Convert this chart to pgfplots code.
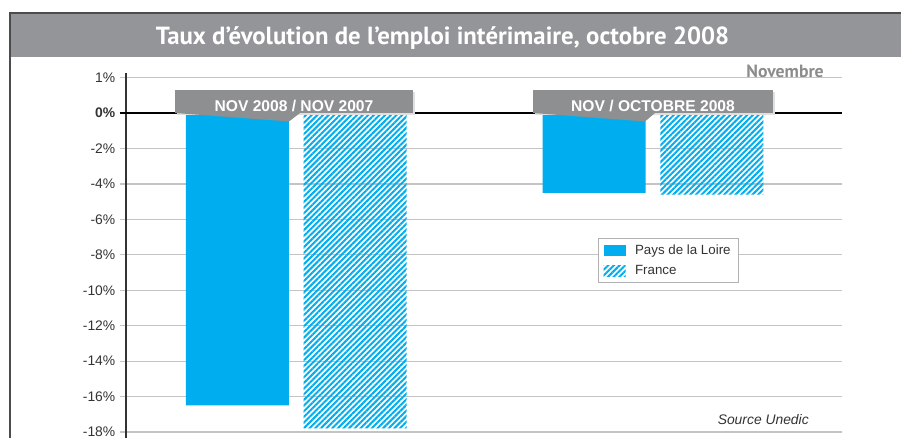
\documentclass[border=0pt]{standalone}
\usepackage{fontspec}
\setmainfont{Liberation Sans}
\newfontfamily\titlefont{PT Sans}
\usepackage{pgfplots}
\pgfplotsset{compat=1.18}
\usetikzlibrary{patterns.meta}

\definecolor{bleu}{HTML}{00AEEF}
\definecolor{bandeau}{HTML}{939598}
\definecolor{etiquette}{HTML}{8E8F91}
\definecolor{texte}{HTML}{333333}
\definecolor{grille}{HTML}{C4C4C4}

\begin{document}
\begin{tikzpicture}
\useasboundingbox (0,0) rectangle (675.75pt,328.5pt);

% cadre et bandeau de titre (1 unite = 1 px)
\begin{scope}[x=0.75pt,y=0.75pt]
  \fill[bandeau] (10,381) rectangle (901,425);
  \draw[line width=1.1pt, color=black!70] (10,0) -- (10,425) -- (901,425);
  \node[anchor=base, text=white, inner sep=0pt,
        font=\titlefont\bfseries\fontsize{18.6pt}{21pt}\selectfont]
    at (442.5,393.7) {Taux d’évolution de l’emploi intérimaire, octobre 2008};
  \node[anchor=base east, text=black!45, inner sep=0pt,
        font=\titlefont\bfseries\fontsize{13.3pt}{15pt}\selectfont]
    at (824,360.7) {Novembre};
  \node[anchor=base east, text=texte, inner sep=0pt,
        font=\itshape\fontsize{10.4pt}{12pt}\selectfont]
    at (809,13.5) {Source Unedic};
\end{scope}

\begin{axis}[
  at={(94.5pt,0pt)}, anchor=south west,
  scale only axis,
  width=537pt, height=273.75pt,
  ybar,
  bar width=0.2888,
  xmin=-0.4774, xmax=1.5298,
  ymin=-18.34, ymax=2.27,
  enlargelimits=false,
  axis x line=none,
  axis y line=left,
  y axis line style={-, line width=1.1pt, color=texte},
  xtick=\empty,
  ytick={2,-2,-4,-6,-8,-10,-12,-14,-16,-18},
  yticklabels={1\%,-2\%,-4\%,-6\%,-8\%,-10\%,-12\%,-14\%,-16\%,-18\%},
  extra y ticks={0},
  extra y tick labels={\textbf{0\%}},
  extra y tick style={grid style={black, line width=1.1pt}, tick style={black, line width=1.1pt}},
  ymajorgrids,
  grid style={grille, line width=0.8pt},
  tick align=outside,
  major tick length=4.5pt,
  tick style={grille, line width=0.8pt},
  yticklabel style={font=\fontsize{10.4pt}{12pt}\selectfont, text=texte},
  legend style={at={(0.6592,0.5479)}, anchor=north west, draw=black!30,
    line width=0.6pt, font=\fontsize{10pt}{12pt}\selectfont, text=texte,
    inner xsep=4pt, inner ysep=2.5pt, row sep=3pt, column sep=5pt},
  legend cell align=left,
  legend image code/.code={\fill[#1] (0pt,-4.1pt) rectangle (16.5pt,4.1pt);},
]
\addplot[fill=bleu, draw=none, bar shift=-0.1651]
  coordinates {(0,-16.5) (1,-4.5)};
\addlegendentry{Pays de la Loire}
\addplot[draw=none, pattern={Lines[angle=45, distance=3pt, line width=1.5pt]},
  pattern color=bleu, bar shift=0.1651]
  coordinates {(0,-17.8) (1,-4.6)};
\addlegendentry{France}
\end{axis}

% etiquettes grises des deux groupes
\begin{scope}[x=0.75pt,y=0.75pt]
  \fill[black!12] (177,323) rectangle (415,346);
  \fill[etiquette] (175,325) -- (289,316.5) -- (300,325) -- cycle;
  \fill[etiquette] (175,325) rectangle (413,348);
  \node[anchor=base, text=white, inner sep=0pt,
        font=\bfseries\fontsize{11.7pt}{14pt}\selectfont]
    at (294,326.5) {NOV 2008 / NOV 2007};
  \fill[black!12] (535,323) rectangle (775,346);
  \fill[etiquette] (533,325) -- (645,316.5) -- (655,325) -- cycle;
  \fill[etiquette] (533,325) rectangle (773,348);
  \node[anchor=base, text=white, inner sep=0pt,
        font=\bfseries\fontsize{11.7pt}{14pt}\selectfont]
    at (653,326.5) {NOV / OCTOBRE 2008};
\end{scope}
\end{tikzpicture}
\end{document}
